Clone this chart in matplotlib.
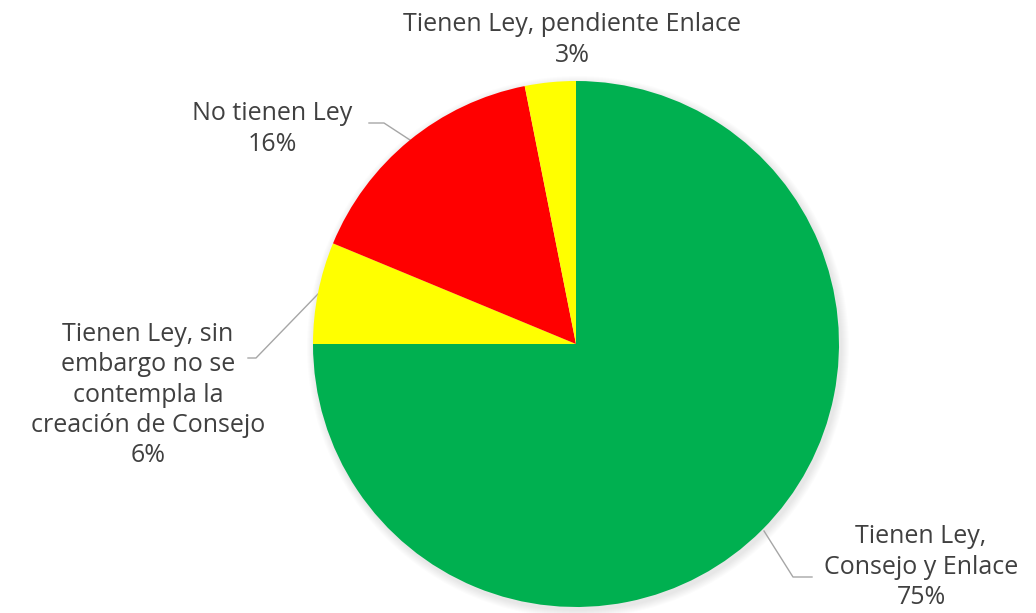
import matplotlib.pyplot as plt
from matplotlib.patches import Circle

# share of 32 entidades
labels = ["Tienen Ley,\nConsejo y Enlace",
          "Tienen Ley, sin\nembargo no se\ncontempla la\ncreación de Consejo",
          "No tienen Ley",
          "Tienen Ley, pendiente Enlace"]
counts = [24, 2, 5, 1]
colors = ["#00B050", "#FFFF00", "#FF0000", "#FFFF00"]

W, H = 1036, 613
fig = plt.figure(figsize=(W / 100, H / 100), dpi=100)
ax = fig.add_axes([0, 0, 1, 1])

cx, cy, r = 576, H - 344, 263

# soft shadow around the pie
for i in range(8):
    ax.add_patch(Circle((cx + 2, cy - 3), r + 8 - i, color="black",
                        alpha=0.012, lw=0, zorder=0))

wedges, _ = ax.pie(counts, colors=colors, startangle=90, counterclock=False,
                   center=(cx, cy), radius=r, frame=True,
                   wedgeprops=dict(linewidth=0))
ax.set_xlim(0, W)
ax.set_ylim(0, H)
ax.set_aspect("equal")
ax.axis("off")

total = sum(counts)
pct = [f"{round(100 * c / total)}%" for c in counts]

# label centres and leader lines (pixel coords from top)
label_pos = [(921, 567), (148, 395), (272, 129), (572, 40)]
leaders = [
    [(812, 577), (793, 577), (764, 531)],
    [(248, 358), (256, 358), (318, 294)],
    [(369, 123), (384, 123), (410, 140)],
    None,
]

font = ["Open Sans", "DejaVu Sans"]
for lab, p, (x, y), ld in zip(labels, pct, label_pos, leaders):
    ax.text(x, H - y, f"{lab}\n{p}", ha="center", va="center",
            fontsize=18, color="#404040", family=font, linespacing=1.28)
    if ld:
        xs = [a for a, b in ld]
        ys = [H - b for a, b in ld]
        ax.plot(xs, ys, color="#A6A6A6", lw=1, zorder=0.5)

fig.savefig("out.png", dpi=100)
